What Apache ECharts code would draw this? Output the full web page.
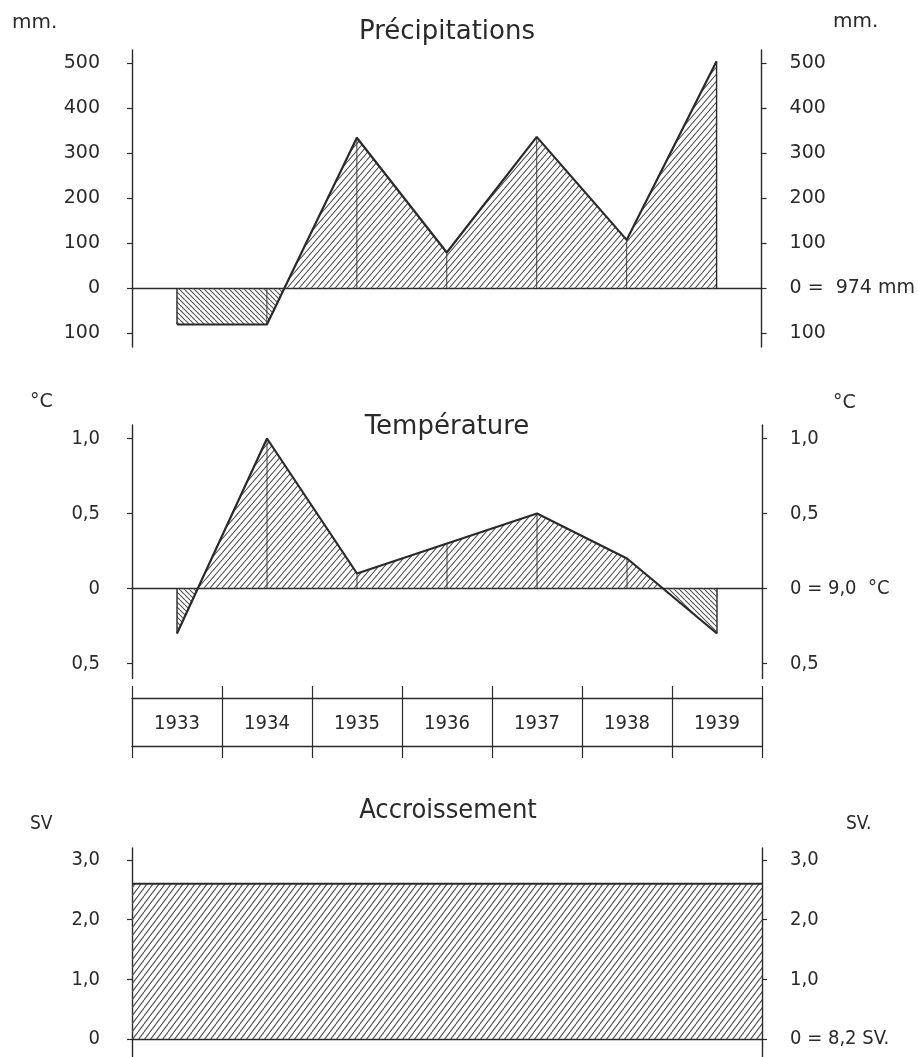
<!DOCTYPE html>
<html>
<head>
<meta charset="utf-8">
<script src="https://cdn.jsdelivr.net/npm/echarts@6/dist/echarts.min.js"></script>
<style>
html,body{margin:0;padding:0;background:#fff;}
#chart{width:918px;height:1057px;}
</style>
</head>
<body>
<div id="chart"></div>
<script>
// ---- data ----
const years = ['1933', '1934', '1935', '1936', '1937', '1938', '1939'];
const precipitation = [-80, -80, 335, 80, 337, 108, 505];     // mm, deviation from 974 mm
const temperature = [-0.3, 1.0, 0.1, 0.3, 0.5, 0.2, -0.3];    // °C, deviation from 9,0 °C
const accroissement = [2.6, 2.6, 2.6, 2.6, 2.6, 2.6, 2.6];    // SV, deviation from 8,2 SV
const precipTicks = [-100, 0, 100, 200, 300, 400, 500];
const tempTicks = [-0.5, 0, 0.5, 1.0];
const accTicks = [0, 1, 2, 3];

// ---- styles ----
const ink = '#2a2a2a';
const hatchInk = '#505050';
const wideFont = "'DejaVu Sans', 'Noto Sans', sans-serif";
const narrowFont = "'DejaVu Sans Condensed', 'Liberation Sans Narrow', 'DejaVu Sans', sans-serif";

function makeHatch(w, h, forward) {
  const c = document.createElement('canvas');
  c.width = w; c.height = h;
  const g = c.getContext('2d');
  g.strokeStyle = hatchInk;
  g.lineWidth = 1.1;
  for (let k = -1; k <= 1; k++) {
    g.beginPath();
    if (forward) { g.moveTo(k * w, h); g.lineTo(k * w + w, 0); }
    else { g.moveTo(k * w, 0); g.lineTo(k * w + w, h); }
    g.stroke();
  }
  return { image: c, repeat: 'repeat' };
}
const posPat = makeHatch(6, 7, true);
const negPat = makeHatch(5, 5, false);
const accPat = makeHatch(6, 8, true);

function hatchRender(values) {
  return function (params, api) {
    const i = params.dataIndex;
    const v = api.value(1);
    const p = api.coord([i, v]);
    const b = api.coord([i, 0]);
    const children = [];
    if (i < values.length - 1) {
      const v2 = values[i + 1];
      const p2 = api.coord([i + 1, v2]);
      const b2 = api.coord([i + 1, 0]);
      if ((v >= 0 && v2 >= 0) || (v <= 0 && v2 <= 0)) {
        children.push({ type: 'polygon', shape: { points: [b, p, p2, b2] },
          style: { fill: (v + v2 >= 0) ? posPat : negPat } });
      } else {
        const t = v / (v - v2);
        const c = [p[0] + t * (p2[0] - p[0]), b[1]];
        children.push({ type: 'polygon', shape: { points: [b, p, c] },
          style: { fill: v > 0 ? posPat : negPat } });
        children.push({ type: 'polygon', shape: { points: [c, p2, b2] },
          style: { fill: v2 > 0 ? posPat : negPat } });
      }
    }
    const edge = (i === 0 || i === values.length - 1);
    children.push({ type: 'line', shape: { x1: p[0], y1: b[1], x2: p[0], y2: p[1] },
      style: { stroke: ink, lineWidth: edge ? 1.4 : 0.9 } });
    return { type: 'group', children };
  };
}

function accRender(params, api) {
  const i = params.dataIndex;
  const v = api.value(1);
  const p = api.coord([i, v]);
  const b = api.coord([i, 0]);
  const w = api.size([1, 0])[0];
  return { type: 'group', children: [
    { type: 'rect', shape: { x: p[0] - w / 2, y: p[1], width: w, height: b[1] - p[1] },
      style: { fill: accPat } },
    { type: 'line', shape: { x1: p[0] - w / 2, y1: p[1], x2: p[0] + w / 2, y2: p[1] },
      style: { stroke: ink, lineWidth: 2 } }
  ] };
}

const fmtDec = v => v === 0 ? '0' : Math.abs(v).toFixed(1).replace('.', ',');

function yAx(gridIndex, position, min, max, ticks, formatter, font, margin, size) {
  return {
    type: 'value', gridIndex, position, min, max,
    axisLine: { show: true, lineStyle: { color: ink, width: 1.4 } },
    axisTick: { show: true, length: 5, customValues: ticks, lineStyle: { color: ink, width: 1.2 } },
    axisLabel: { show: true, customValues: ticks, formatter, margin,
      color: ink, fontFamily: font, fontSize: size || 19 },
    splitLine: { show: false }
  };
}
function xAx(gridIndex) {
  return {
    type: 'category', gridIndex, data: years, boundaryGap: true,
    axisLine: { show: true, onZero: true, lineStyle: { color: ink, width: 1.3 } },
    axisTick: { show: false }, axisLabel: { show: false }, splitLine: { show: false }
  };
}

const grids = [
  { left: 132, right: 156, top: 50, height: 297 },
  { left: 132, right: 156, top: 425, height: 253.5 },
  { left: 132, right: 156, top: 698, height: 48 },
  { left: 132, right: 156, top: 848, height: 209 }
];

const option = {
  backgroundColor: '#fff',
  animation: false,
  grid: grids,
  xAxis: [
    xAx(0),
    xAx(1),
    { type: 'category', gridIndex: 2, data: years, position: 'top', boundaryGap: true,
      axisLine: { show: true, onZero: false, lineStyle: { color: ink, width: 1.3 } },
      axisTick: { show: true, length: 12, lineStyle: { color: ink, width: 1.2 } },
      axisLabel: { show: false }, splitLine: { show: false } },
    { type: 'category', gridIndex: 2, data: years, position: 'bottom', boundaryGap: true,
      axisLine: { show: true, onZero: false, lineStyle: { color: ink, width: 1.3 } },
      axisTick: { show: true, length: 12, lineStyle: { color: ink, width: 1.2 } },
      axisLabel: { show: true, inside: true, margin: 22, verticalAlign: 'middle',
        color: ink, fontFamily: narrowFont, fontSize: 20 },
      splitLine: { show: true, lineStyle: { color: ink, width: 1.2 } } },
    xAx(3)
  ],
  yAxis: [
    yAx(0, 'left', -130, 530, precipTicks, v => String(Math.abs(v)), wideFont, 32),
    yAx(0, 'right', -130, 530, precipTicks, v => v === 0 ? '0 =  974 mm' : String(Math.abs(v)), wideFont, 28),
    yAx(1, 'left', -0.6, 1.09, tempTicks, fmtDec, narrowFont, 32, 20),
    yAx(1, 'right', -0.6, 1.09, tempTicks, v => v === 0 ? '0 = 9,0  °C' : fmtDec(v), narrowFont, 28, 20),
    { type: 'value', gridIndex: 2, position: 'left', min: 0, max: 1,
      axisLine: { show: true, lineStyle: { color: ink, width: 1.2 } },
      axisTick: { show: false }, axisLabel: { show: false }, splitLine: { show: false } },
    { type: 'value', gridIndex: 2, position: 'right', min: 0, max: 1,
      axisLine: { show: true, lineStyle: { color: ink, width: 1.2 } },
      axisTick: { show: false }, axisLabel: { show: false }, splitLine: { show: false } },
    yAx(3, 'left', -0.3, 3.2, accTicks, fmtDec, narrowFont, 32, 20),
    yAx(3, 'right', -0.3, 3.2, accTicks, v => v === 0 ? '0 = 8,2 SV.' : fmtDec(v), narrowFont, 28, 20)
  ],
  series: [
    { type: 'custom', xAxisIndex: 0, yAxisIndex: 0, z: 2,
      data: precipitation.map((v, i) => [i, v]), renderItem: hatchRender(precipitation) },
    { type: 'line', xAxisIndex: 0, yAxisIndex: 0, z: 3, data: precipitation,
      symbol: 'none', lineStyle: { color: ink, width: 2.2 } },
    { type: 'custom', xAxisIndex: 1, yAxisIndex: 2, z: 2,
      data: temperature.map((v, i) => [i, v]), renderItem: hatchRender(temperature) },
    { type: 'line', xAxisIndex: 1, yAxisIndex: 2, z: 3, data: temperature,
      symbol: 'none', lineStyle: { color: ink, width: 2.2 } },
    { type: 'custom', xAxisIndex: 4, yAxisIndex: 6, z: 2,
      data: accroissement.map((v, i) => [i, v]), renderItem: accRender }
  ],
  graphic: [
    { type: 'text', x: 447, y: 32, style: { text: 'Précipitations', fill: ink,
      font: "26px " + wideFont, textAlign: 'center', textVerticalAlign: 'middle' } },
    { type: 'text', x: 447, y: 427, style: { text: 'Température', fill: ink,
      font: "26px " + wideFont, textAlign: 'center', textVerticalAlign: 'middle' } },
    { type: 'text', x: 448, y: 811, style: { text: 'Accroissement', fill: ink,
      font: "27px " + narrowFont, textAlign: 'center', textVerticalAlign: 'middle' } },
    { type: 'text', x: 12, y: 23, style: { text: 'mm.', fill: ink,
      font: "20px " + wideFont, textAlign: 'left', textVerticalAlign: 'middle' } },
    { type: 'text', x: 833, y: 22, style: { text: 'mm.', fill: ink,
      font: "20px " + wideFont, textAlign: 'left', textVerticalAlign: 'middle' } },
    { type: 'text', x: 30, y: 402, style: { text: '°C', fill: ink,
      font: "19px " + wideFont, textAlign: 'left', textVerticalAlign: 'middle' } },
    { type: 'text', x: 833, y: 403, style: { text: '°C', fill: ink,
      font: "19px " + wideFont, textAlign: 'left', textVerticalAlign: 'middle' } },
    { type: 'text', x: 30, y: 824, style: { text: 'SV', fill: ink,
      font: "19px " + narrowFont, textAlign: 'left', textVerticalAlign: 'middle' } },
    { type: 'text', x: 846, y: 824, style: { text: 'SV.', fill: ink,
      font: "19px " + narrowFont, textAlign: 'left', textVerticalAlign: 'middle' } }
  ]
};

const chart = echarts.init(document.getElementById('chart'), null, { renderer: 'canvas' });
chart.setOption(option);
</script>
</body>
</html>
